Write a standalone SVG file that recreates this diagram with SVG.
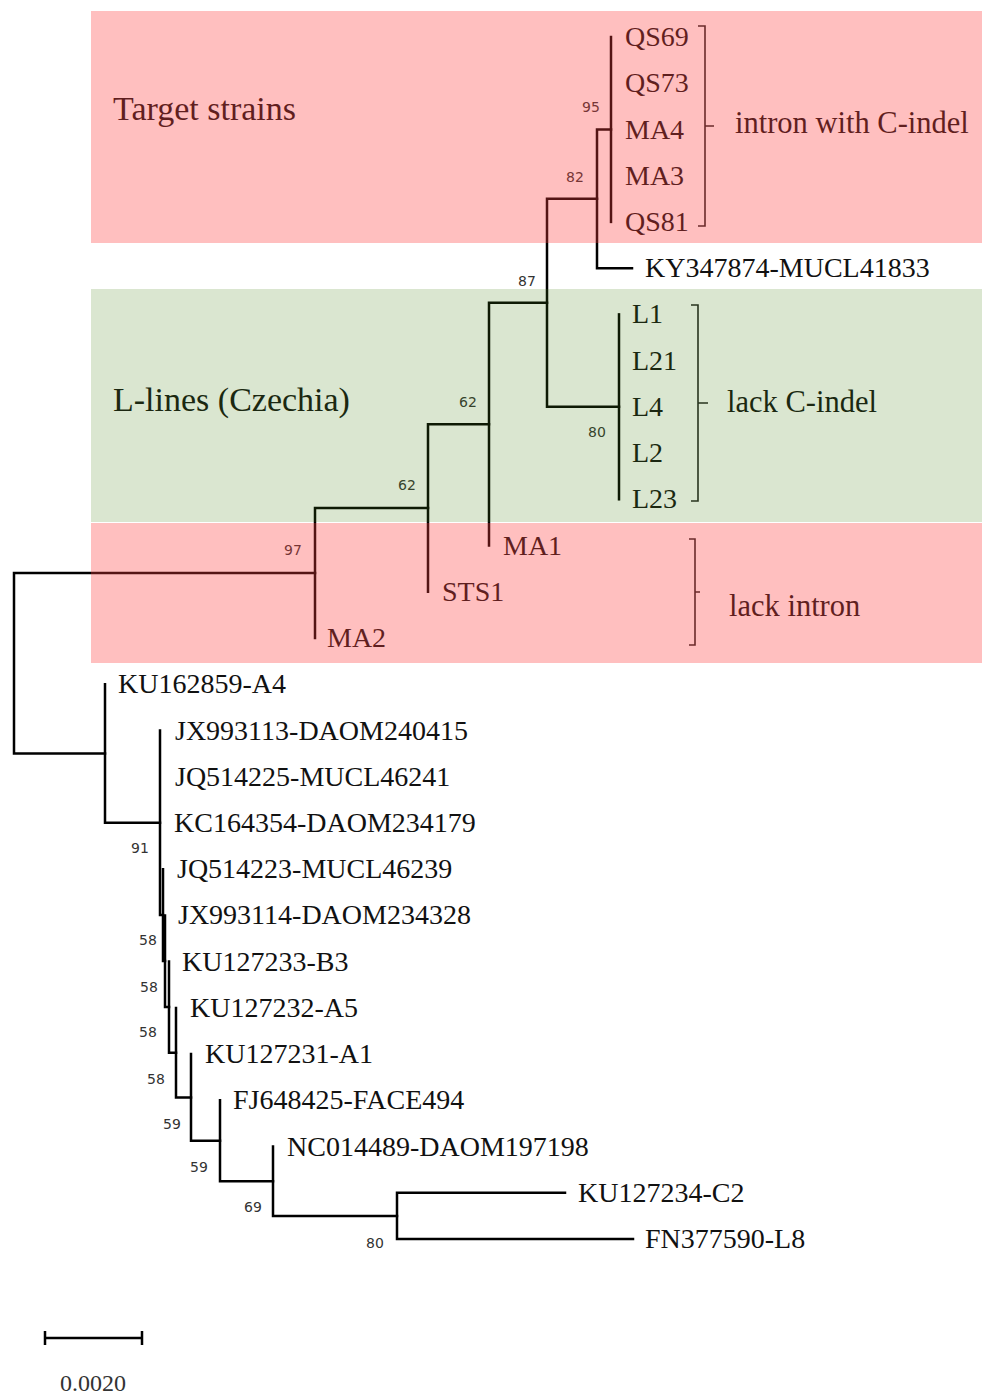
<svg xmlns="http://www.w3.org/2000/svg" width="982" height="1394" viewBox="0 0 982 1394">
<style>
.leaf{font-family:"Liberation Serif","Times New Roman",serif;font-size:28px;fill:#111}
.bs{font-family:"DejaVu Sans",Verdana,sans-serif;font-size:14px;fill:#333;text-anchor:middle}
.ann{font-family:"Liberation Serif","Times New Roman",serif;font-size:30.5px;fill:#111}
.head{font-family:"Liberation Serif","Times New Roman",serif;font-size:34px;fill:#111}
.br{fill:none;stroke:#222;stroke-width:1.6}
#connectors path{fill:none;stroke:#000;stroke-width:2.5;stroke-linecap:square}
.pink{fill:rgb(255,60,60);fill-opacity:0.33}
.green{fill:rgb(70,130,20);fill-opacity:0.2}
</style>
<rect width="982" height="1394" fill="#fff"/>
<g id="connectors">
<path d="M14,573V753.5M14,573H315M14,753.5H105"/>
<path d="M315,508V638M315,508H428"/>
<path d="M428,424.2V591.8M428,424.2H489"/>
<path d="M489,302.8V545.5M489,302.8H547"/>
<path d="M547,198.8V406.8M547,198.8H597M547,406.8H619"/>
<path d="M619,314.4V499.3"/>
<path d="M597,129.5V268.2M597,129.5H611M597,268.2H632"/>
<path d="M611,37V221.9"/>
<path d="M105,684.2V822.8M105,822.8H160"/>
<path d="M160,730.5V915.1M160,915.1H163"/>
<path d="M163,869.2V961.1M163,961.1H165"/>
<path d="M165,915.4V1007.1M165,1007.1H169"/>
<path d="M169,961.6V1052.7M169,1052.7H176"/>
<path d="M176,1007.9V1097.4M176,1097.4H191"/>
<path d="M191,1054.1V1140.8M191,1140.8H220"/>
<path d="M220,1100.3V1181.2M220,1181.2H273"/>
<path d="M273,1146.5V1215.9M273,1215.9H397"/>
<path d="M397,1192.8V1239M397,1192.8H565M397,1239H633"/>
</g>
<g id="bootstrap">
<text class="bs" x="591" y="112">95</text>
<text class="bs" x="575" y="182">82</text>
<text class="bs" x="527" y="286">87</text>
<text class="bs" x="468" y="407">62</text>
<text class="bs" x="407" y="490">62</text>
<text class="bs" x="293" y="555">97</text>
<text class="bs" x="597" y="437">80</text>
<text class="bs" x="140" y="853">91</text>
<text class="bs" x="148" y="945">58</text>
<text class="bs" x="149" y="992">58</text>
<text class="bs" x="148" y="1037">58</text>
<text class="bs" x="156" y="1084">58</text>
<text class="bs" x="172" y="1129">59</text>
<text class="bs" x="199" y="1172">59</text>
<text class="bs" x="253" y="1212">69</text>
<text class="bs" x="375" y="1248">80</text>
</g>
<g id="leaves">
<g id="n-QS69"><text class="leaf" x="625" y="46">QS69</text></g>
<g id="n-QS73"><text class="leaf" x="625" y="92.2">QS73</text></g>
<g id="n-MA4"><text class="leaf" x="625" y="138.5">MA4</text></g>
<g id="n-MA3"><text class="leaf" x="625" y="184.7">MA3</text></g>
<g id="n-QS81"><text class="leaf" x="625" y="230.9">QS81</text></g>
<g id="n-KY347874"><text class="leaf" x="645" y="277.2">KY347874-MUCL41833</text></g>
<g id="n-L1"><text class="leaf" x="632" y="323.4">L1</text></g>
<g id="n-L21"><text class="leaf" x="632" y="369.6">L21</text></g>
<g id="n-L4"><text class="leaf" x="632" y="415.8">L4</text></g>
<g id="n-L2"><text class="leaf" x="632" y="462.1">L2</text></g>
<g id="n-L23"><text class="leaf" x="632" y="508.3">L23</text></g>
<g id="n-MA1"><text class="leaf" x="503" y="554.5">MA1</text></g>
<g id="n-STS1"><text class="leaf" x="442" y="600.8">STS1</text></g>
<g id="n-MA2"><text class="leaf" x="327" y="647">MA2</text></g>
<g id="n-KU162859"><text class="leaf" x="118" y="693.2">KU162859-A4</text></g>
<g id="n-JX993113"><text class="leaf" x="175" y="739.5">JX993113-DAOM240415</text></g>
<g id="n-JQ514225"><text class="leaf" x="175" y="785.7">JQ514225-MUCL46241</text></g>
<g id="n-KC164354"><text class="leaf" x="174" y="831.9">KC164354-DAOM234179</text></g>
<g id="n-JQ514223"><text class="leaf" x="177" y="878.2">JQ514223-MUCL46239</text></g>
<g id="n-JX993114"><text class="leaf" x="178" y="924.4">JX993114-DAOM234328</text></g>
<g id="n-KU127233"><text class="leaf" x="182" y="970.6">KU127233-B3</text></g>
<g id="n-KU127232"><text class="leaf" x="190" y="1016.9">KU127232-A5</text></g>
<g id="n-KU127231"><text class="leaf" x="205" y="1063.1">KU127231-A1</text></g>
<g id="n-FJ648425"><text class="leaf" x="233" y="1109.3">FJ648425-FACE494</text></g>
<g id="n-NC014489"><text class="leaf" x="287" y="1155.5">NC014489-DAOM197198</text></g>
<g id="n-KU127234"><text class="leaf" x="578" y="1201.8">KU127234-C2</text></g>
<g id="n-FN377590"><text class="leaf" x="645" y="1248">FN377590-L8</text></g>
</g>
<g id="brackets">
<path class="br" d="M698,26H705V226H698M705,126H714"/>
<path class="br" d="M691,305H698V501H691M698,403H708"/>
<path class="br" d="M689,539H695V645H689M695,592H700"/>
</g>
<g id="annotations">
<text class="head" x="113" y="120">Target  strains</text>
<text class="head" x="113" y="411">L-lines (Czechia)</text>
<text class="ann" x="735" y="133">intron with C-indel</text>
<text class="ann" x="727" y="412">lack C-indel</text>
<text class="ann" x="729" y="616">lack intron</text>
</g>
<g id="regions">
<rect class="pink" x="91" y="11" width="891" height="232"/>
<rect class="green" x="91" y="289" width="891" height="233"/>
<rect class="pink" x="91" y="523" width="891" height="140"/>
</g>
<g id="scalebar">
<path d="M45,1338H142M45,1331V1345M142,1331V1345" fill="none" stroke="#000" stroke-width="2.5"/>
<text x="93" y="1391" text-anchor="middle" style="font-family:'Liberation Serif','Times New Roman',serif;font-size:24px;fill:#333">0.0020</text>
</g>
</svg>
